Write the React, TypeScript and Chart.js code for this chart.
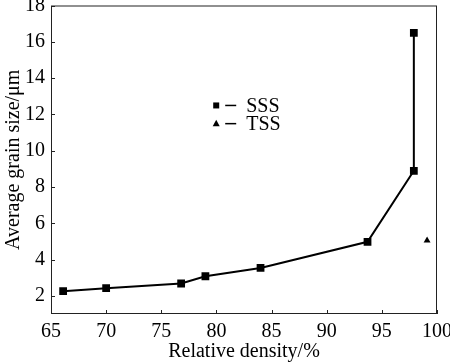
import React, { useEffect, useRef } from "react";
import { Chart, registerables } from "chart.js";

Chart.register(...registerables);

const sssDensity = [66.1, 70.0, 76.8, 79.0, 84.0, 93.7, 97.9, 97.9];
const sssGrain = [2.26, 2.42, 2.68, 3.08, 3.54, 4.98, 8.89, 16.49];
const tssDensity = [99.1];
const tssGrain = [5.05];
const legendLabels = ["SSS", "TSS"];
const xTitle = "Relative density/%";
const yTitle = "Average grain size/\u03bcm";

const FONT = "'Liberation Serif', 'Times New Roman', serif";

const frameAndTicks = {
  id: "frameAndTicks",
  afterDraw(chart: any) {
    const ctx = chart.ctx;
    const { left, right, top, bottom } = chart.chartArea;
    ctx.save();
    ctx.strokeStyle = "#222";
    ctx.lineWidth = 1;
    ctx.strokeRect(left + 0.5, top + 0.5, right - left - 1, bottom - top - 1);
    const xs = chart.scales.x;
    const ys = chart.scales.y;
    ctx.beginPath();
    xs.ticks.forEach((t: any) => {
      const px = Math.round(xs.getPixelForValue(t.value)) + 0.5;
      ctx.moveTo(px, bottom);
      ctx.lineTo(px, bottom - 4);
    });
    ys.ticks.forEach((t: any) => {
      const py = Math.round(ys.getPixelForValue(t.value)) + 0.5;
      ctx.moveTo(left, py);
      ctx.lineTo(left + 4, py);
    });
    ctx.stroke();

    // legend
    const lx = left + (right - left) * 0.428;
    const rows = [top + (bottom - top) * 0.324, top + (bottom - top) * 0.383];
    const styles = ["rect", "triangle"];
    rows.forEach((ry, i) => {
      ctx.fillStyle = "#000";
      ctx.strokeStyle = "#000";
      if (styles[i] === "rect") {
        ctx.fillRect(lx - 3, ry - 3, 6, 6);
      } else {
        ctx.beginPath();
        ctx.moveTo(lx, ry - 4);
        ctx.lineTo(lx + 3.5, ry + 2.5);
        ctx.lineTo(lx - 3.5, ry + 2.5);
        ctx.closePath();
        ctx.fill();
      }
      ctx.lineWidth = 1.5;
      ctx.beginPath();
      ctx.moveTo(lx + 9, ry);
      ctx.lineTo(lx + 20, ry);
      ctx.stroke();
      ctx.font = `20px ${FONT}`;
      ctx.textBaseline = "middle";
      ctx.textAlign = "left";
      ctx.fillText(legendLabels[i], lx + 30, ry + 1);
    });
    ctx.restore();
  },
};

export default function App() {
  const ref = useRef<HTMLCanvasElement>(null);
  useEffect(() => {
    if (!ref.current) return;
    const chart = new Chart(ref.current, {
      type: "scatter",
      data: {
        datasets: [
          {
            label: legendLabels[0],
            data: sssDensity.map((x, i) => ({ x, y: sssGrain[i] })),
            showLine: true,
            borderColor: "#000",
            backgroundColor: "#000",
            borderWidth: 2,
            pointStyle: "rect",
            pointRadius: 5.5,
            pointBorderWidth: 0,
          },
          {
            label: legendLabels[1],
            data: tssDensity.map((x, i) => ({ x, y: tssGrain[i] })),
            showLine: false,
            borderColor: "#000",
            backgroundColor: "#000",
            pointStyle: "triangle",
            pointRadius: 4,
            pointBorderWidth: 0,
          },
        ],
      },
      plugins: [frameAndTicks],
      options: {
        animation: false,
        responsive: false,
        devicePixelRatio: 1,
        layout: { padding: { top: 5, right: 13, left: 0, bottom: 0 } },
        plugins: { legend: { display: false }, tooltip: { enabled: false } },
        scales: {
          x: {
            type: "linear",
            min: 65,
            max: 100,
            ticks: {
              stepSize: 5,
              color: "#000",
              padding: 6,
              maxRotation: 0,
              font: { family: FONT, size: 20 },
            },
            grid: { display: false, drawTicks: false },
            border: { display: false },
            title: {
              display: true,
              text: xTitle,
              color: "#000",
              font: { family: FONT, size: 20 },
              padding: { top: 0, bottom: -1 },
            },
            afterFit: (s: any) => {
              s.height = 49;
              s.paddingLeft = 0;
              s.paddingRight = 0;
            },
          },
          y: {
            type: "linear",
            min: 1,
            max: 18,
            afterBuildTicks: (s: any) => {
              s.ticks = [2, 4, 6, 8, 10, 12, 14, 16, 18].map((v) => ({ value: v }));
            },
            ticks: {
              color: "#000",
              padding: 6,
              font: { family: FONT, size: 20 },
            },
            grid: { display: false, drawTicks: false },
            border: { display: false },
            title: {
              display: true,
              text: yTitle,
              color: "#000",
              font: { family: FONT, size: 20 },
              padding: { top: 2, bottom: 0 },
            },
            afterFit: (s: any) => {
              s.width = 51;
              s.paddingTop = 0;
              s.paddingBottom = 0;
            },
          },
        },
      },
    });
    return () => chart.destroy();
  }, []);
  return (
    <div style={{ position: "absolute", left: 0, top: 0, width: 450, height: 363, background: "#fff" }}>
      <canvas ref={ref} width={450} height={363} />
    </div>
  );
}
